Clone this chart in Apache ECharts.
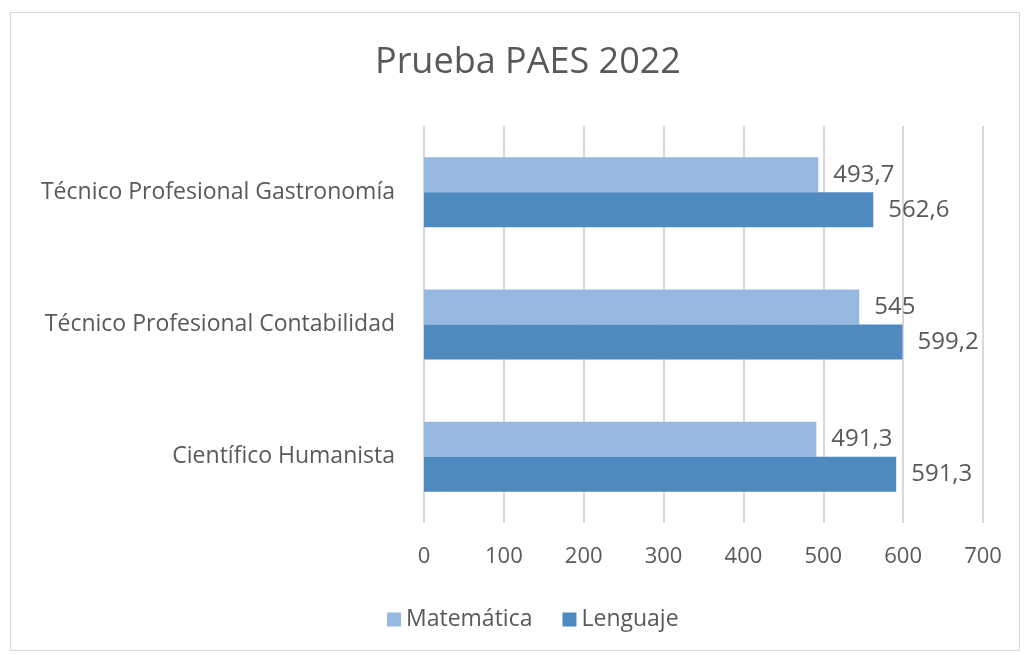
<!DOCTYPE html>
<html>
<head>
<meta charset="utf-8">
<script src="https://cdn.jsdelivr.net/npm/echarts@6/dist/echarts.min.js"></script>
<style>
  html, body { margin: 0; padding: 0; background: #fff; }
  #wrap { position: absolute; left: 10px; top: 12px; width: 1008px; height: 637px; border: 1px solid #d9d9d9; }
  #chart { position: absolute; left: 0; top: 0; width: 1026px; height: 655px; }
</style>
</head>
<body>
<div id="wrap"></div>
<div id="chart"></div>
<script>
// categorias de abajo hacia arriba (eje y de ECharts)
var categories = ["Científico Humanista", "Técnico Profesional Contabilidad", "Técnico Profesional Gastronomía"];
var matematica = [491.3, 545, 493.7];
var lenguaje = [591.3, 599.2, 562.6];
var xTicks = [0, 700, 100];

var textColor = "#595959";
var font = "Open Sans";

var myChart = echarts.init(document.getElementById("chart"));

function fmt(p) {
  return String(p.value).replace(".", ",");
}

var option = {
  animation: false,
  textStyle: { fontFamily: font },
  title: {
    text: "Prueba PAES 2022",
    left: 370,
    top: 40,
    textStyle: { color: textColor, fontSize: 36, fontWeight: "normal", fontFamily: font }
  },
  legend: {
    data: ["Matemática", "Lenguaje"],
    top: 603,
    left: 382,
    itemWidth: 14,
    itemHeight: 14,
    itemGap: 30,
    icon: "rect",
    textStyle: { color: textColor, fontSize: 23, fontFamily: font }
  },
  grid: { left: 424, right: 43, top: 126, bottom: 132 },
  xAxis: {
    type: "value",
    min: xTicks[0],
    max: xTicks[1],
    interval: xTicks[2],
    axisLine: { show: false },
    axisTick: { show: false },
    splitLine: { lineStyle: { color: "#d9d9d9", width: 2 } },
    axisLabel: { color: textColor, fontSize: 22, margin: 23, fontFamily: font }
  },
  yAxis: {
    type: "category",
    data: categories,
    axisLine: { show: false },
    axisTick: { show: false },
    axisLabel: { color: textColor, fontSize: 23, margin: 29, fontFamily: font }
  },
  series: [
    {
      name: "Matemática",
      type: "bar",
      data: matematica,
      barWidth: 35,
      barGap: "0%",
      itemStyle: { color: "#97b9e0" },
      label: { show: true, position: "right", distance: 15, color: textColor, fontSize: 24, fontFamily: font, formatter: fmt }
    },
    {
      name: "Lenguaje",
      type: "bar",
      data: lenguaje,
      barWidth: 35,
      barGap: "0%",
      itemStyle: { color: "#4e89bf" },
      label: { show: true, position: "right", distance: 15, color: textColor, fontSize: 24, fontFamily: font, formatter: fmt }
    }
  ]
};

myChart.setOption(option);
</script>
</body>
</html>
